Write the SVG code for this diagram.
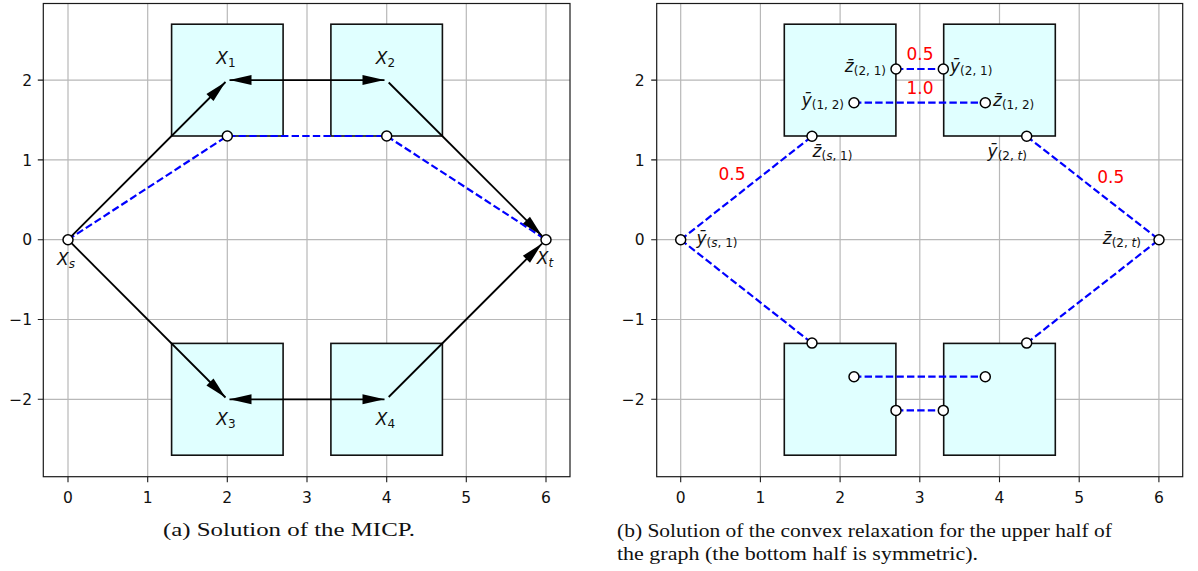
<svg xmlns="http://www.w3.org/2000/svg" width="1198" height="571" viewBox="0 0 1198 571">
<style>
.bg{fill:#ffffff}
.frame{fill:none;stroke:#1a1a1a;stroke-width:1.2}
.grid{stroke:#b8b8b8;stroke-width:1.2;fill:none}
.tick{stroke:#1a1a1a;stroke-width:1.1}
.tl{font-family:"DejaVu Sans",sans-serif;font-size:15.5px;fill:#111}
.box{fill:#e0ffff;stroke:#111;stroke-width:1.6}
.blue{stroke:#0000ff;stroke-width:2.2;stroke-dasharray:7.4 3.2;fill:none}
.arr{stroke:#000;stroke-width:1.8;fill:none}
.pt{fill:#fff;stroke:#000;stroke-width:1.5}
.m{font-family:"DejaVu Sans",sans-serif;font-style:italic;font-size:17px;fill:#111}
.sub{font-size:12px;font-style:normal}
.it{font-style:italic}
.red{font-family:"DejaVu Sans",sans-serif;font-size:17px;fill:#ff0000}
.cap{font-family:"Liberation Serif",serif;font-size:19px;fill:#111}
</style>
<defs>
<marker id="ah" markerUnits="userSpaceOnUse" markerWidth="24" markerHeight="12" viewBox="-23 -6 24 12" refX="0" refY="0" orient="auto-start-reverse">
<path d="M0,0 L-22,-5 L-22,5 Z" fill="#000"/>
</marker>
</defs>
<rect class="bg" x="0" y="0" width="1198" height="571"/>

<!-- ===== Left panel (a) ===== -->
<g id="axes-a">
<g class="grid">
<path d="M68,3.5V476.7M147.7,3.5V476.7M227.3,3.5V476.7M307,3.5V476.7M386.7,3.5V476.7M466.3,3.5V476.7M546,3.5V476.7"/>
<path d="M43.3,80.1H570M43.3,159.9H570M43.3,239.7H570M43.3,319.5H570M43.3,399.3H570"/>
</g>
<g class="tick">
<path d="M68,476.7v5.5M147.7,476.7v5.5M227.3,476.7v5.5M307,476.7v5.5M386.7,476.7v5.5M466.3,476.7v5.5M546,476.7v5.5"/>
<path d="M43.3,80.1h-5.5M43.3,159.9h-5.5M43.3,239.7h-5.5M43.3,319.5h-5.5M43.3,399.3h-5.5"/>
</g>
<g class="tl" text-anchor="middle">
<text x="68" y="502.5">0</text><text x="147.7" y="502.5">1</text><text x="227.3" y="502.5">2</text><text x="307" y="502.5">3</text><text x="386.7" y="502.5">4</text><text x="466.3" y="502.5">5</text><text x="546" y="502.5">6</text>
</g>
<g class="tl" text-anchor="end">
<text x="32" y="85.7">2</text><text x="32" y="165.5">1</text><text x="32" y="245.3">0</text><text x="32" y="325.1">−1</text><text x="32" y="404.9">−2</text>
</g>
</g>

<g id="node-X1"><rect class="box" x="171.6" y="24.2" width="111.5" height="111.8"/><text class="m" x="226" y="64" text-anchor="middle">X<tspan class="sub" dy="3">1</tspan></text></g>
<g id="node-X2"><rect class="box" x="330.9" y="24.2" width="111.5" height="111.8"/><text class="m" x="385.5" y="64" text-anchor="middle">X<tspan class="sub" dy="3">2</tspan></text></g>
<g id="node-X3"><rect class="box" x="171.6" y="343.4" width="111.5" height="111.8"/><text class="m" x="226" y="425" text-anchor="middle">X<tspan class="sub" dy="3">3</tspan></text></g>
<g id="node-X4"><rect class="box" x="330.9" y="343.4" width="111.5" height="111.8"/><text class="m" x="385.5" y="425" text-anchor="middle">X<tspan class="sub" dy="3">4</tspan></text></g>

<g id="connectors-a">
<path class="blue" d="M68,239.7L227.3,136H386.7L546,239.7"/>
<path class="arr" d="M68,239.7L225.5,82" marker-end="url(#ah)"/>
<path class="arr" d="M229.5,80.1H384.5" marker-start="url(#ah)" marker-end="url(#ah)"/>
<path class="arr" d="M388.7,82.5L542,235.8" marker-end="url(#ah)"/>
<path class="arr" d="M68,239.7L225.5,397.5" marker-end="url(#ah)"/>
<path class="arr" d="M229.5,399.3H384.5" marker-start="url(#ah)" marker-end="url(#ah)"/>
<path class="arr" d="M388.7,397L542,243.6" marker-end="url(#ah)"/>
</g>

<g id="node-Xs"><circle class="pt" cx="68" cy="239.7" r="5"/><text class="m" x="66" y="265" text-anchor="middle">X<tspan class="sub it" dy="3">s</tspan></text></g>
<g id="node-Xt"><circle class="pt" cx="546" cy="239.7" r="5"/><text class="m" x="545" y="263.5" text-anchor="middle">X<tspan class="sub it" dy="3">t</tspan></text></g>
<g id="points-a">
<circle class="pt" cx="227.3" cy="136" r="5"/>
<circle class="pt" cx="386.7" cy="136" r="5"/>
</g>
<rect class="frame" x="43.3" y="3.5" width="526.7" height="473.2"/>

<!-- ===== Right panel (b) ===== -->
<g id="axes-b">
<g class="grid">
<path d="M680.7,3.5V476.7M760.4,3.5V476.7M840.1,3.5V476.7M919.8,3.5V476.7M999.5,3.5V476.7M1079.2,3.5V476.7M1158.9,3.5V476.7"/>
<path d="M656.7,80.1H1182.7M656.7,159.9H1182.7M656.7,239.7H1182.7M656.7,319.5H1182.7M656.7,399.3H1182.7"/>
</g>
<g class="tick">
<path d="M680.7,476.7v5.5M760.4,476.7v5.5M840.1,476.7v5.5M919.8,476.7v5.5M999.5,476.7v5.5M1079.2,476.7v5.5M1158.9,476.7v5.5"/>
<path d="M656.7,80.1h-5.5M656.7,159.9h-5.5M656.7,239.7h-5.5M656.7,319.5h-5.5M656.7,399.3h-5.5"/>
</g>
<g class="tl" text-anchor="middle">
<text x="680.7" y="502.5">0</text><text x="760.4" y="502.5">1</text><text x="840.1" y="502.5">2</text><text x="919.8" y="502.5">3</text><text x="999.5" y="502.5">4</text><text x="1079.2" y="502.5">5</text><text x="1158.9" y="502.5">6</text>
</g>
<g class="tl" text-anchor="end">
<text x="644.5" y="85.7">2</text><text x="644.5" y="165.5">1</text><text x="644.5" y="245.3">0</text><text x="644.5" y="325.1">−1</text><text x="644.5" y="404.9">−2</text>
</g>
</g>

<g id="box-b1"><rect class="box" x="784.3" y="24.2" width="111.6" height="111.8"/></g>
<g id="box-b2"><rect class="box" x="943.7" y="24.2" width="111.6" height="111.8"/></g>
<g id="box-b3"><rect class="box" x="784.3" y="343.4" width="111.6" height="111.8"/></g>
<g id="box-b4"><rect class="box" x="943.7" y="343.4" width="111.6" height="111.8"/></g>

<g id="connectors-b">
<path class="blue" d="M680.7,239.7L812,136.3"/>
<path class="blue" d="M854,102.7H985.3"/>
<path class="blue" d="M896,69H943.3"/>
<path class="blue" d="M1026.7,136.3L1159,239.7"/>
<path class="blue" d="M680.7,239.7L812,343.1"/>
<path class="blue" d="M854,376.7H985.3"/>
<path class="blue" d="M896,410.4H943.3"/>
<path class="blue" d="M1026.7,343.1L1159,239.7"/>
</g>

<g id="points-b">
<circle class="pt" cx="680.7" cy="239.7" r="5"/>
<circle class="pt" cx="812" cy="136.3" r="5"/>
<circle class="pt" cx="854" cy="102.7" r="5"/>
<circle class="pt" cx="896" cy="69" r="5"/>
<circle class="pt" cx="943.3" cy="69" r="5"/>
<circle class="pt" cx="985.3" cy="102.7" r="5"/>
<circle class="pt" cx="1026.7" cy="136.3" r="5"/>
<circle class="pt" cx="1159" cy="239.7" r="5"/>
<circle class="pt" cx="812" cy="343.1" r="5"/>
<circle class="pt" cx="854" cy="376.7" r="5"/>
<circle class="pt" cx="896" cy="410.4" r="5"/>
<circle class="pt" cx="943.3" cy="410.4" r="5"/>
<circle class="pt" cx="985.3" cy="376.7" r="5"/>
<circle class="pt" cx="1026.7" cy="343.1" r="5"/>
</g>

<g id="labels-b">
<text class="m" x="696.5" y="244">ȳ<tspan class="sub" dy="3">(<tspan class="it">s</tspan>, 1)</tspan></text>
<text class="m" x="812.5" y="156.5">z̄<tspan class="sub" dy="3">(<tspan class="it">s</tspan>, 1)</tspan></text>
<text class="m" x="844" y="106" text-anchor="end">ȳ<tspan class="sub" dy="3">(1, 2)</tspan></text>
<text class="m" x="886" y="72" text-anchor="end">z̄<tspan class="sub" dy="3">(2, 1)</tspan></text>
<text class="m" x="950" y="72">ȳ<tspan class="sub" dy="3">(2, 1)</tspan></text>
<text class="m" x="993" y="106">z̄<tspan class="sub" dy="3">(1, 2)</tspan></text>
<text class="m" x="1027" y="156.5" text-anchor="end">ȳ<tspan class="sub" dy="3">(2, <tspan class="it">t</tspan>)</tspan></text>
<text class="m" x="1141" y="244" text-anchor="end">z̄<tspan class="sub" dy="3">(2, <tspan class="it">t</tspan>)</tspan></text>
<text class="red" x="920" y="60" text-anchor="middle">0.5</text>
<text class="red" x="920" y="94" text-anchor="middle">1.0</text>
<text class="red" x="732" y="179.5" text-anchor="middle">0.5</text>
<text class="red" x="1110.7" y="183" text-anchor="middle">0.5</text>
</g>
<rect class="frame" x="656.7" y="3.5" width="526" height="473.2"/>

<g id="captions">
<text class="cap" x="163" y="536" textLength="252" lengthAdjust="spacingAndGlyphs">(a) Solution of the MICP.</text>
<text class="cap" x="617" y="536.5" textLength="495" lengthAdjust="spacingAndGlyphs">(b) Solution of the convex relaxation for the upper half of</text>
<text class="cap" x="617" y="560" textLength="361" lengthAdjust="spacingAndGlyphs">the graph (the bottom half is symmetric).</text>
</g>
</svg>
